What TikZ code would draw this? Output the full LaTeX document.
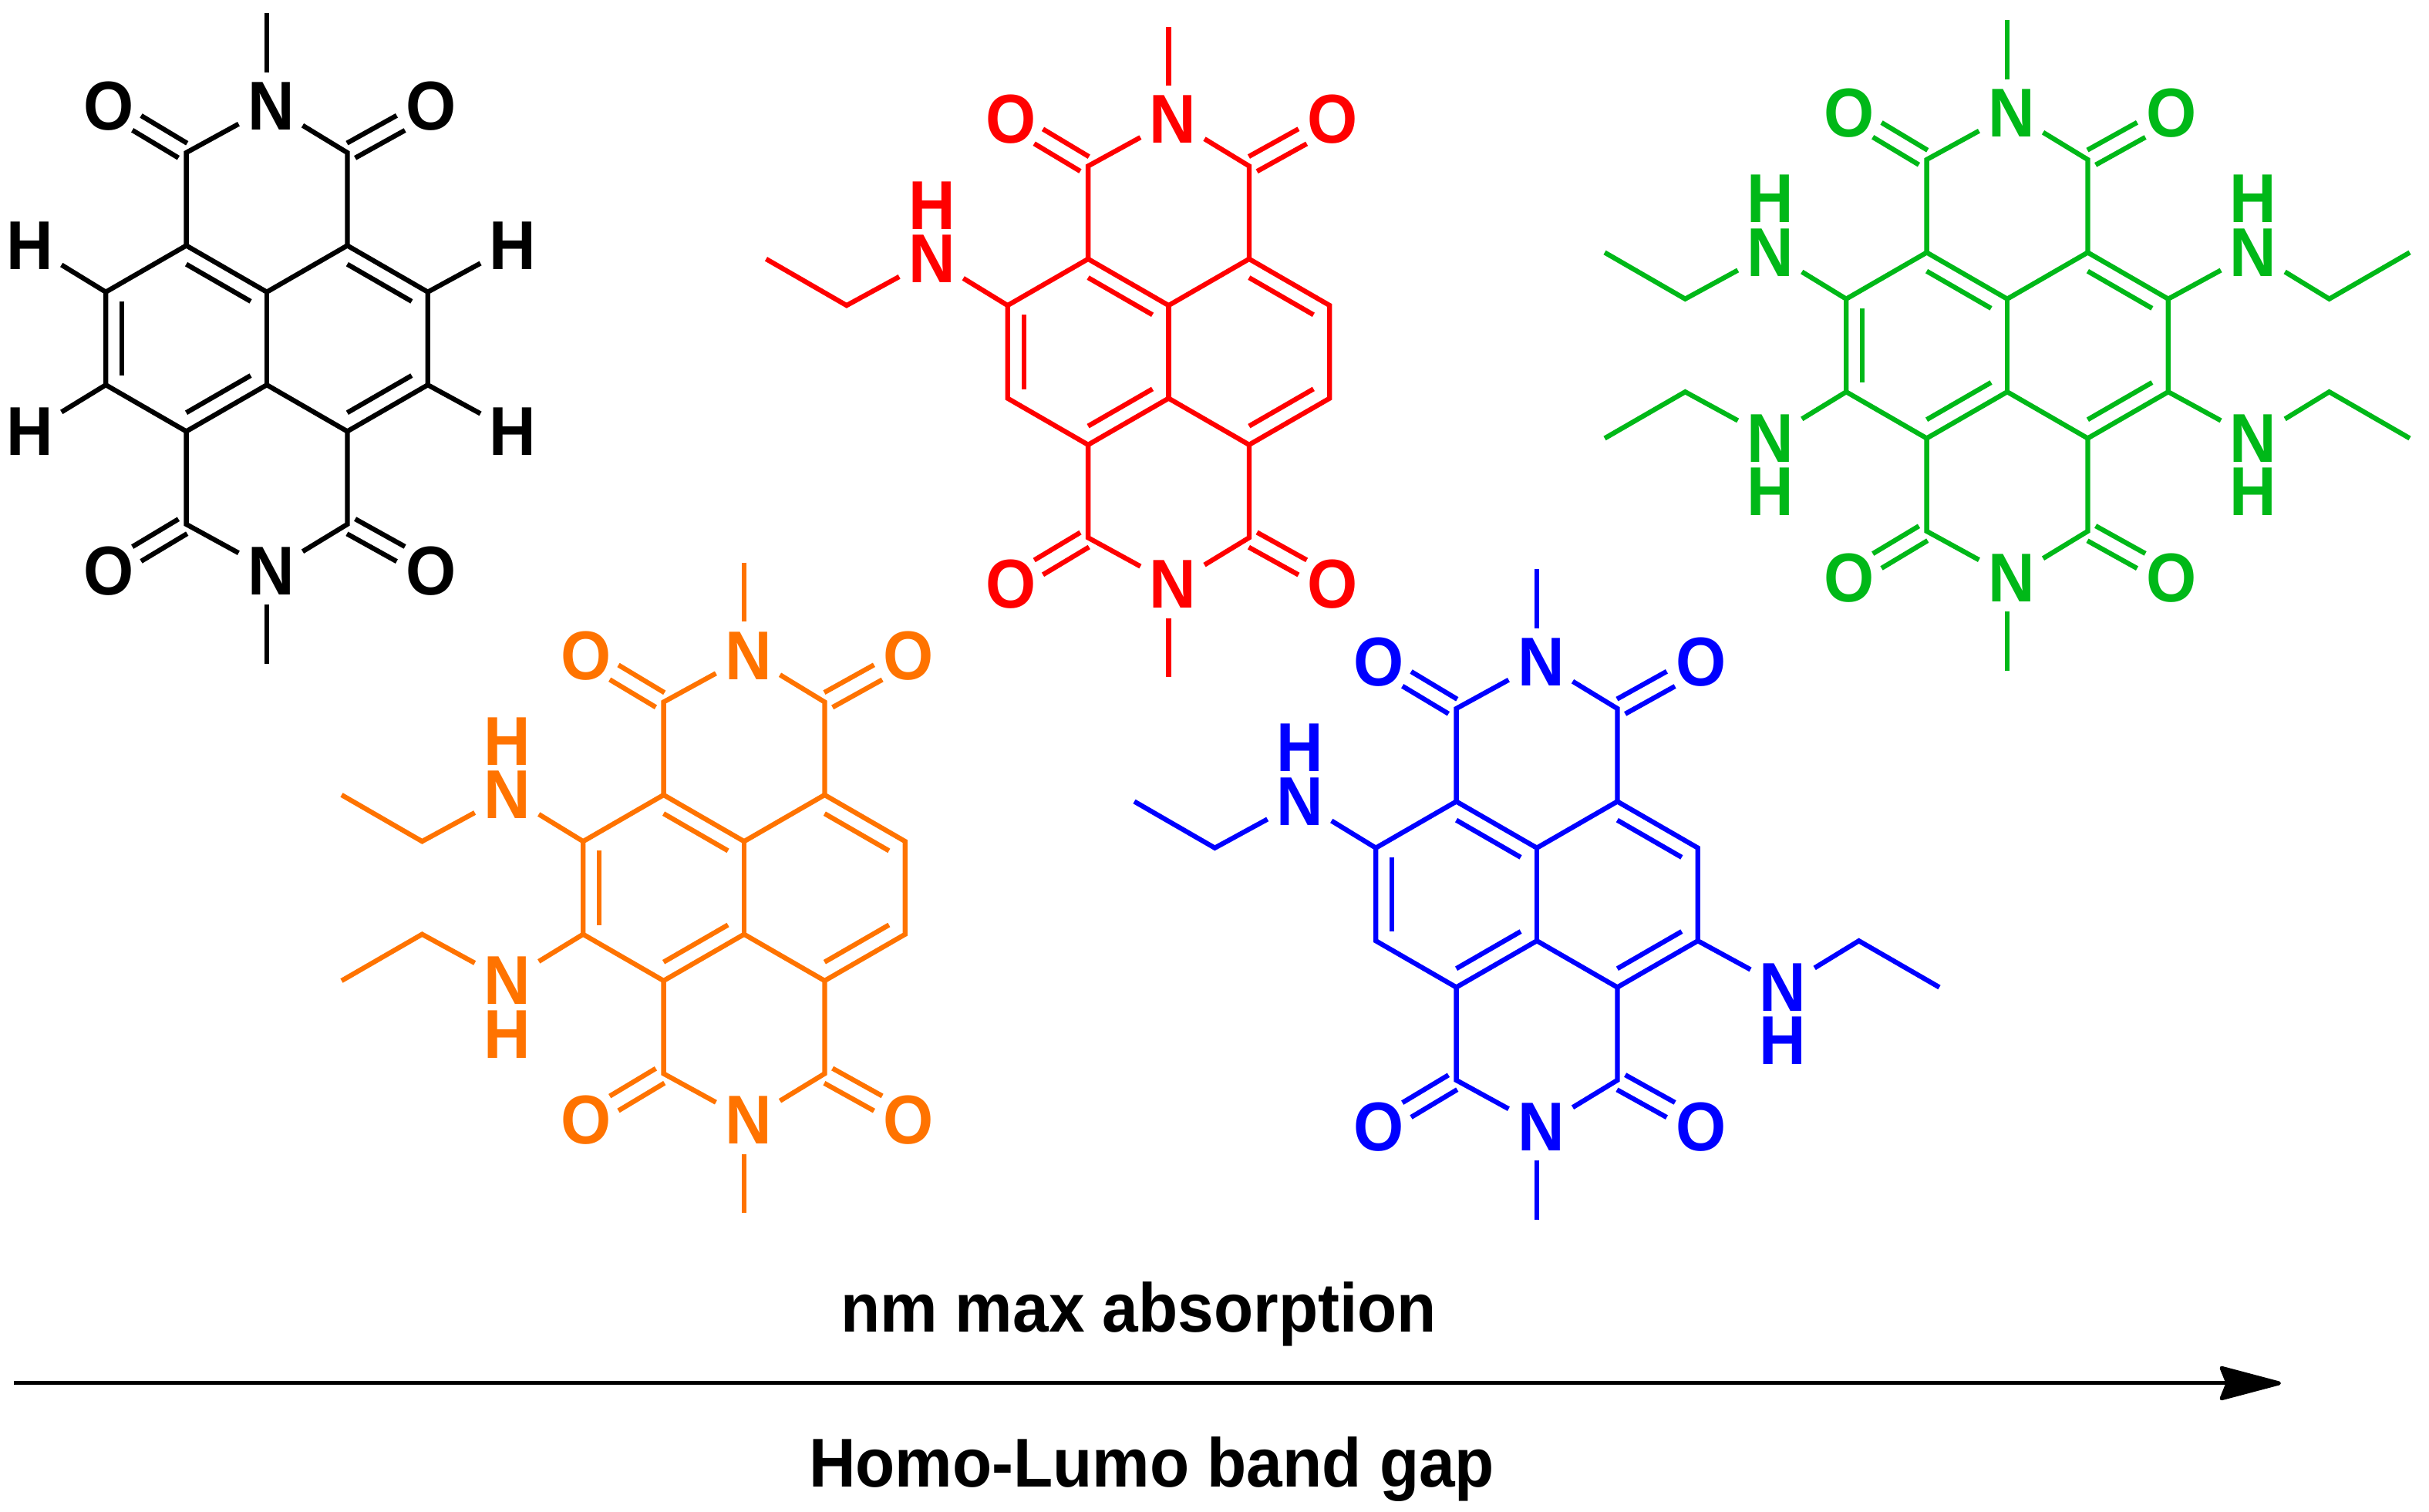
\documentclass[tikz,border=0pt]{standalone}
\usepackage{fontspec}
\setmainfont[FakeStretch=0.935]{Liberation Sans}
\usetikzlibrary{arrows.meta, calc}

\definecolor{ntired}{RGB}{255,0,0}
\definecolor{ntigreen}{RGB}{0,184,24}
\definecolor{ntiorange}{RGB}{255,115,0}
\definecolor{ntiblue}{RGB}{0,0,255}

\tikzset{
    atom/.style={circle, inner sep=0pt, outer sep=0pt, minimum size=.96cm, font=\bfseries\fontsize{25.5}{30}\selectfont},
    amineh/.style={inner sep=0pt, outer sep=0pt, font=\bfseries\fontsize{25.5}{30}\selectfont},
    axislabel/.style={anchor=base, inner sep=0pt, font=\bfseries\fontsize{25.5}{30}\selectfont},
    bond/.style={line width=.063cm}
}

\begin{document}
\begin{tikzpicture}[bond]
    \useasboundingbox (0,0) rectangle (31.5,19.61);
    % Inner line of a ring double bond, on the left of #1 to #2
    \def\inbond#1#2{\draw ($(#1)!.1!(#2)!.21cm!90:(#2)$) -- ($(#2)!.1!(#1)!.21cm!-90:(#1)$);}
    % Carbonyl: two lines either side of the C to O axis
    \def\carbonyl#1#2{
        \draw ($(#1)!.045!(#2)!.11cm!90:(#2)$) -- ($(#2)!.36!(#1)!.11cm!-90:(#1)$);
        \draw ($(#1)!.045!(#2)!.11cm!-90:(#2)$) -- ($(#2)!.36!(#1)!.11cm!90:(#1)$);
    }

    % Naphthalene diimide core of all five molecules
    \foreach \nm/\cx/\cy/\col in {bk/3.46/15.22/black, rd/15.155/15.046/ntired, gn/26.03/15.13/ntigreen, or/9.65/8.095/ntiorange, bl/19.93/8.01/ntiblue}{
        \begin{scope}[shift={(\cx,\cy)}, name prefix=\nm-, color=\col]
            % Ring carbons
            \coordinate (t) at (0,.6025);
            \coordinate (b) at (0,-.6025);
            \coordinate (ul) at (-1.044,1.205);
            \coordinate (ur) at (1.044,1.205);
            \coordinate (ll) at (-1.044,-1.205);
            \coordinate (lr) at (1.044,-1.205);
            \coordinate (l1) at (-2.088,.6025);
            \coordinate (l2) at (-2.088,-.6025);
            \coordinate (r1) at (2.088,.6025);
            \coordinate (r2) at (2.088,-.6025);
            % Imide carbons and methyl ends
            \coordinate (cul) at (-1.044,2.41);
            \coordinate (cur) at (1.044,2.41);
            \coordinate (cll) at (-1.044,-2.41);
            \coordinate (clr) at (1.044,-2.41);
            \coordinate (met) at (0,4.2175);
            \coordinate (meb) at (0,-4.2175);
            % Imide atoms
            \node[atom] (nt) at (.055,3.0125) {N};
            \node[atom] (nb) at (.055,-3.0125) {N};
            \node[atom] (oul) at (-2.048,3.0125) {O};
            \node[atom] (our) at (2.128,3.0125) {O};
            \node[atom] (oll) at (-2.048,-3.0125) {O};
            \node[atom] (olr) at (2.128,-3.0125) {O};

            % Ring outline and central bond
            \draw (ul) -- (l1) -- (l2) -- (ll) -- (b) -- (lr) -- (r2) -- (r1) -- (ur) -- (t) -- cycle;
            \draw (t) -- (b);
            \inbond{t}{ul}
            \inbond{r1}{ur}
            \inbond{l1}{l2}
            \inbond{ll}{b}
            \inbond{lr}{r2}

            % Imide rings
            \draw (ul) -- (cul) -- (nt) -- (cur) -- (ur);
            \draw (ll) -- (cll) -- (nb) -- (clr) -- (lr);
            \draw[shorten >=-.04cm] (met) -- (met |- nt.north);
            \draw[shorten >=-.04cm] (meb) -- (meb |- nb.south);
            \carbonyl{cul}{oul}
            \carbonyl{cur}{our}
            \carbonyl{cll}{oll}
            \carbonyl{clr}{olr}
        \end{scope}
    }

    % Hydrogens of the black molecule
    \foreach \base/\sx/\sy in {l1/-1/1, l2/-1/-1, r1/1/1, r2/1/-1}{
        \begin{scope}[shift={(bk-\base)}]
            \node[atom] (bk-\base-h) at (\sx*1.044+.06,\sy*.6025) {H};
            \draw (bk-\base) -- (bk-\base-h);
        \end{scope}
    }

    % Ethylamino groups
    \foreach \nm/\col/\base/\sx/\sy in {rd/ntired/l1/-1/1, gn/ntigreen/l1/-1/1, gn/ntigreen/l2/-1/-1, gn/ntigreen/r1/1/1, gn/ntigreen/r2/1/-1, or/ntiorange/l1/-1/1, or/ntiorange/l2/-1/-1, bl/ntiblue/l1/-1/1, bl/ntiblue/r2/1/-1}{
        \begin{scope}[shift={(\nm-\base)}, color=\col]
            \node[atom] (\nm-\base-n) at (\sx*1.044+.06,\sy*.6025) {N};
            \node[amineh] (\nm-\base-h) at (\sx*1.044+.06,\sy*1.2975) {H};
            \coordinate (\nm-\base-ch2) at (\sx*2.088,0);
            \coordinate (\nm-\base-ch3) at (\sx*3.132,\sy*.6025);
            \draw (\nm-\base) -- (\nm-\base-n) -- (\nm-\base-ch2) -- (\nm-\base-ch3);
        \end{scope}
    }

    % Axis arrow with its two labels
    \coordinate (axisstart) at (.18,1.67);
    \coordinate (axisend) at (29.58,1.67);
    \draw[line width=.05cm, -{Stealth[length=.88cm, width=.46cm, inset=.09cm, round]}] (axisstart) -- (axisend);
    \node[axislabel] (absorption) at (14.765,2.33) {nm max absorption};
    \node[axislabel] (bandgap) at (14.936,.32) {Homo-Lumo band gap};
\end{tikzpicture}
\end{document}
